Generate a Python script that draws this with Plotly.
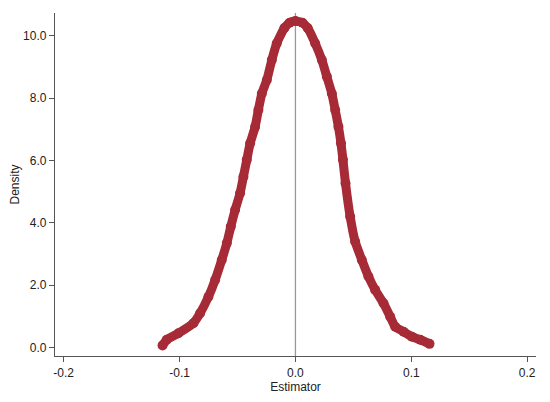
import plotly.graph_objects as go

estimator = [-0.1147, -0.1111, -0.1010, -0.0881, -0.0823, -0.0751, -0.0693, -0.0636,
             -0.0592, -0.0558, -0.0521, -0.0478, -0.0449, -0.0420, -0.0391, -0.0348,
             -0.0320, -0.0290, -0.0247, -0.0204, -0.0161, -0.0095, -0.0050, 0.0000,
             0.0060, 0.0105, 0.0170, 0.0228, 0.0271, 0.0314, 0.0343, 0.0371, 0.0393, 0.0410,
             0.0432, 0.0472, 0.0515, 0.0573, 0.0630, 0.0688, 0.0760, 0.0818, 0.0861,
             0.0933, 0.1005, 0.1077, 0.1157]
density = [0.07, 0.25, 0.46, 0.78, 1.10, 1.63, 2.17, 2.81,
           3.35, 3.88, 4.41, 4.95, 5.48, 6.02, 6.55, 7.08,
           7.62, 8.15, 8.58, 9.22, 9.76, 10.25, 10.42, 10.47,
           10.42, 10.25, 9.76, 9.22, 8.69, 8.15, 7.62, 7.08, 6.55, 6.02,
           5.27, 4.20, 3.40, 2.81, 2.28, 1.85, 1.42, 0.99, 0.67,
           0.51, 0.35, 0.25, 0.12]

x_ticks = [-0.2, -0.1, 0.0, 0.1, 0.2]
x_labels = ["-0.2", "-0.1", "0.0", "0.1", "0.2"]
y_ticks = [0, 2, 4, 6, 8, 10]
y_labels = ["0.0", "2.0", "4.0", "6.0", "8.0", "10.0"]

RED = "#A62B36"

fig = go.Figure()
fig.add_trace(go.Scatter(
    x=estimator, y=density, mode="lines+markers",
    line=dict(color=RED, width=9, shape="spline", smoothing=0.5),
    marker=dict(color=RED, size=10),
    showlegend=False, hoverinfo="skip"))

fig.add_shape(type="line", xref="x", yref="paper", x0=0, x1=0, y0=0, y1=1,
              line=dict(color="#999999", width=1.3), layer="below")

fig.update_layout(
    width=542, height=394,
    margin=dict(l=47, r=14, t=5, b=46),
    paper_bgcolor="white", plot_bgcolor="white",
    font=dict(family="Liberation Sans, Arial, sans-serif", size=12, color="#222222"),
    xaxis=dict(range=[-0.2075, 0.2076], tickvals=x_ticks, ticktext=x_labels,
               automargin=False,
               showgrid=False, zeroline=False, showline=True, linecolor="#555555",
               linewidth=1.3, ticks="outside", ticklen=5, tickcolor="#555555",
               title=dict(text="Estimator", standoff=2, font=dict(size=12))),
    yaxis=dict(range=[-0.27, 10.73], tickvals=y_ticks, ticktext=y_labels,
               automargin=False,
               showgrid=False, zeroline=False, showline=True, linecolor="#555555",
               linewidth=1.3, ticks="outside", ticklen=5, tickcolor="#555555",
               title=dict(text="Density", standoff=8, font=dict(size=12))),
)

fig.write_html("out.html")
